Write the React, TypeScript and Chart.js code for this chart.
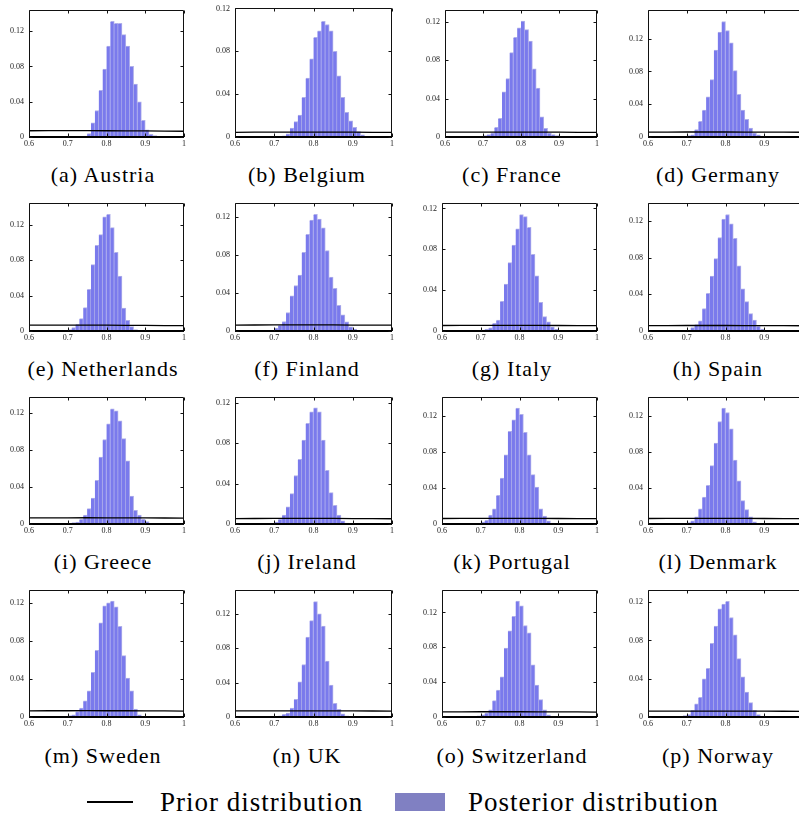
import React, { useEffect, useRef } from 'react';
import { Chart, registerables } from 'chart.js';

Chart.register(...registerables);

// ---------------- data ----------------
const X_TICKS = [0.6, 0.7, 0.8, 0.9, 1.0];
const Y_TICKS = [0, 0.04, 0.08, 0.12];
const BIN_WIDTH = 0.01;
const PRIOR_X = [0.6, 0.7, 0.8, 0.9, 1.0];

const COUNTRIES = [
  'Austria', 'Belgium', 'France', 'Germany',
  'Netherlands', 'Finland', 'Italy', 'Spain',
  'Greece', 'Ireland', 'Portugal', 'Denmark',
  'Sweden', 'UK', 'Switzerland', 'Norway',
];
const LETTERS = ['a', 'b', 'c', 'd', 'e', 'f', 'g', 'h', 'i', 'j', 'k', 'l', 'm', 'n', 'o', 'p'];

// left edge of the first histogram bin for each country
const BIN_START = [0.74, 0.72, 0.70, 0.69, 0.70, 0.70, 0.70, 0.70, 0.70, 0.70, 0.69, 0.69, 0.69, 0.70, 0.68, 0.69];

// upper y limit of each panel
const Y_MAX = [0.1442, 0.1206, 0.1327, 0.1553, 0.145, 0.1353, 0.1255, 0.1398, 0.137, 0.1258, 0.1415, 0.1415, 0.1338, 0.1478, 0.146, 0.133];

// posterior histograms (bin heights)
const POST_AUSTRIA = [0.001, 0.004, 0.016, 0.03, 0.053, 0.077, 0.103, 0.131, 0.129, 0.129, 0.116, 0.103, 0.080, 0.060, 0.040, 0.019, 0.008, 0.003, 0.0015, 0.0008];
const POST_BELGIUM = [0.001, 0.003, 0.0083, 0.0144, 0.0205, 0.037, 0.055, 0.073, 0.093, 0.099, 0.108, 0.105, 0.099, 0.080, 0.057, 0.037, 0.023, 0.015, 0.009, 0.005, 0.002];
const POST_FRANCE = [0.0014, 0.0024, 0.004, 0.010, 0.0195, 0.047, 0.061, 0.088, 0.104, 0.114, 0.121, 0.112, 0.100, 0.071, 0.051, 0.021, 0.009, 0.004, 0.0024, 0.0014];
const POST_GERMANY = [0.0008, 0.0016, 0.0028, 0.009, 0.019, 0.033, 0.049, 0.070, 0.106, 0.128, 0.141, 0.130, 0.115, 0.081, 0.052, 0.033, 0.0217, 0.011, 0.0048, 0.0028, 0.001];
const POST_NETHERLANDS = [0.0015, 0.004, 0.0075, 0.014, 0.0265, 0.047, 0.075, 0.097, 0.109, 0.129, 0.132, 0.117, 0.089, 0.062, 0.026, 0.012, 0.005, 0.0015];
const POST_FINLAND = [0.003, 0.006, 0.010, 0.0195, 0.037, 0.048, 0.059, 0.083, 0.102, 0.117, 0.123, 0.118, 0.109, 0.085, 0.057, 0.045, 0.027, 0.017, 0.0098, 0.0045, 0.002];
const POST_ITALY = [0.001, 0.002, 0.003, 0.0074, 0.0107, 0.029, 0.046, 0.067, 0.084, 0.100, 0.114, 0.112, 0.1016, 0.075, 0.054, 0.028, 0.014, 0.009, 0.004, 0.002];
const POST_SPAIN = [0.001, 0.0036, 0.007, 0.011, 0.0245, 0.041, 0.060, 0.079, 0.102, 0.122, 0.127, 0.117, 0.101, 0.071, 0.046, 0.032, 0.019, 0.012, 0.005, 0.002];
const POST_GREECE = [0.0007, 0.0014, 0.002, 0.005, 0.0095, 0.0166, 0.028, 0.047, 0.072, 0.091, 0.108, 0.124, 0.122, 0.111, 0.092, 0.068, 0.030, 0.0148, 0.0095, 0.005, 0.0025, 0.0007];
const POST_IRELAND = [0.002, 0.0045, 0.0088, 0.017, 0.030, 0.048, 0.064, 0.083, 0.0996, 0.111, 0.115, 0.111, 0.083, 0.053, 0.031, 0.0185, 0.0088, 0.0032, 0.001];
const POST_PORTUGAL = [0.0007, 0.002, 0.004, 0.0098, 0.017, 0.032, 0.051, 0.077, 0.103, 0.116, 0.129, 0.122, 0.102, 0.077, 0.055, 0.041, 0.017, 0.0088, 0.0036, 0.001];
const POST_DENMARK = [0.0007, 0.0015, 0.0036, 0.008, 0.017, 0.030, 0.043, 0.065, 0.090, 0.114, 0.129, 0.124, 0.106, 0.071, 0.048, 0.026, 0.016, 0.008, 0.0025, 0.0007];
const POST_SWEDEN = [0.0007, 0.0014, 0.0024, 0.0058, 0.0093, 0.017, 0.0276, 0.047, 0.070, 0.099, 0.117, 0.120, 0.122, 0.116, 0.0955, 0.0645, 0.041, 0.0276, 0.0083, 0.0024, 0.0007];
const POST_UK = [0.0007, 0.0015, 0.003, 0.0046, 0.0103, 0.0206, 0.041, 0.061, 0.093, 0.112, 0.134, 0.120, 0.1055, 0.065, 0.037, 0.016, 0.009, 0.0038, 0.0015];
const POST_SWITZERLAND = [0.0007, 0.0014, 0.0026, 0.0045, 0.0083, 0.0188, 0.031, 0.046, 0.079, 0.099, 0.1155, 0.133, 0.1275, 0.105, 0.0967, 0.060, 0.0365, 0.020, 0.0083, 0.0026, 0.0007];
const POST_NORWAY = [0.0014, 0.0024, 0.0069, 0.0137, 0.0206, 0.040, 0.051, 0.077, 0.095, 0.113, 0.118, 0.121, 0.104, 0.086, 0.061, 0.042, 0.026, 0.015, 0.0069, 0.0024, 0.001];

const POSTERIORS = [
  POST_AUSTRIA, POST_BELGIUM, POST_FRANCE, POST_GERMANY,
  POST_NETHERLANDS, POST_FINLAND, POST_ITALY, POST_SPAIN,
  POST_GREECE, POST_IRELAND, POST_PORTUGAL, POST_DENMARK,
  POST_SWEDEN, POST_UK, POST_SWITZERLAND, POST_NORWAY,
];

// prior densities at PRIOR_X
const PRIOR_AUSTRIA = [0.0071, 0.0072, 0.0071, 0.0069, 0.0065];
const PRIOR_BELGIUM = [0.0044, 0.0046, 0.0046, 0.0045, 0.0043];
const PRIOR_FRANCE = [0.0050, 0.0051, 0.0051, 0.0050, 0.0048];
const PRIOR_GERMANY = [0.0060, 0.0061, 0.0061, 0.0060, 0.0058];
const PRIOR_NETHERLANDS = [0.0067, 0.0067, 0.0066, 0.0063, 0.0060];
const PRIOR_FINLAND = [0.0062, 0.0064, 0.0064, 0.0063, 0.0061];
const PRIOR_ITALY = [0.0054, 0.0055, 0.0055, 0.0054, 0.0052];
const PRIOR_SPAIN = [0.0059, 0.0060, 0.0060, 0.0059, 0.0057];
const PRIOR_GREECE = [0.0066, 0.0067, 0.0067, 0.0066, 0.0063];
const PRIOR_IRELAND = [0.0054, 0.0055, 0.0055, 0.0054, 0.0052];
const PRIOR_PORTUGAL = [0.0061, 0.0062, 0.0062, 0.0061, 0.0059];
const PRIOR_DENMARK = [0.0061, 0.0062, 0.0062, 0.0061, 0.0059];
const PRIOR_SWEDEN = [0.0065, 0.0066, 0.0066, 0.0065, 0.0062];
const PRIOR_UK = [0.0071, 0.0072, 0.0072, 0.0071, 0.0068];
const PRIOR_SWITZERLAND = [0.0059, 0.0060, 0.0060, 0.0059, 0.0057];
const PRIOR_NORWAY = [0.0061, 0.0062, 0.0062, 0.0061, 0.0059];

const PRIORS = [
  PRIOR_AUSTRIA, PRIOR_BELGIUM, PRIOR_FRANCE, PRIOR_GERMANY,
  PRIOR_NETHERLANDS, PRIOR_FINLAND, PRIOR_ITALY, PRIOR_SPAIN,
  PRIOR_GREECE, PRIOR_IRELAND, PRIOR_PORTUGAL, PRIOR_DENMARK,
  PRIOR_SWEDEN, PRIOR_UK, PRIOR_SWITZERLAND, PRIOR_NORWAY,
];

const LEGEND_LABELS = ['Prior distribution', 'Posterior distribution'];

// ---------------- layout ----------------
const COL_LEFT = [29, 235, 442, 648];
const COL_RIGHT = [184, 392, 597, 803];
const ROW_TOP = [8, 201, 395, 588];
const ROW_BOTTOM = [137, 331, 524, 717];
const CAPTION_X = [103, 307, 512, 718];
const CAPTION_Y = [175, 368.5, 562, 755.5];

const PAD_L = 34;
const PAD_T = 8;
const PAD_R = 10;
const PAD_B = 16;

const BAR_FILL = 'rgb(122,122,236)';
const BAR_EDGE = 'rgb(176,176,234)';
const SERIF = '"Liberation Serif", "Times New Roman", serif';

const fmt = (v: number) => String(Math.round(v * 100) / 100);

const boxPlugin = {
  id: 'boxTicks',
  afterDatasetsDraw(chart: any) {
    const { ctx, chartArea: a, scales } = chart;
    ctx.save();
    ctx.strokeStyle = '#111';
    ctx.lineWidth = 1;
    const l = Math.round(a.left) + 0.5;
    const r = Math.round(a.right) - 0.5;
    const t = Math.round(a.top) + 0.5;
    const b = Math.round(a.bottom);
    ctx.beginPath();
    ctx.moveTo(l, b);
    ctx.lineTo(l, t);
    ctx.lineTo(r, t);
    ctx.lineTo(r, b);
    ctx.stroke();
    ctx.fillStyle = '#000';
    ctx.fillRect(Math.round(a.left), b - 1, Math.round(a.right) - Math.round(a.left), 2);
    ctx.beginPath();
    X_TICKS.forEach((v) => {
      const x = Math.round(scales.x.getPixelForValue(v)) + 0.5;
      ctx.moveTo(x, b);
      ctx.lineTo(x, b - 3.5);
      ctx.moveTo(x, t);
      ctx.lineTo(x, t + 3);
    });
    Y_TICKS.forEach((v) => {
      const y = Math.round(scales.y.getPixelForValue(v)) + 0.5;
      ctx.moveTo(l, y);
      ctx.lineTo(l + 3, y);
      ctx.moveTo(r, y);
      ctx.lineTo(r - 3, y);
    });
    ctx.stroke();
    ctx.restore();
  },
};

function Panel({ index }: { index: number }) {
  const ref = useRef<HTMLCanvasElement | null>(null);
  const col = index % 4;
  const row = Math.floor(index / 4);
  const left = index === 2 ? 445 : COL_LEFT[col];
  const top = index === 1 ? 6 : ROW_TOP[row];
  const plotW = COL_RIGHT[col] - left;
  const plotH = ROW_BOTTOM[row] - top;
  const W = plotW + PAD_L + PAD_R;
  const H = plotH + PAD_T + PAD_B;

  useEffect(() => {
    if (!ref.current) return;
    const bars = POSTERIORS[index].map((y, i) => ({
      x: BIN_START[index] + BIN_WIDTH * (i + 0.5),
      y,
    }));
    const prior = PRIORS[index].map((y, i) => ({ x: PRIOR_X[i], y }));
    const tickFont = { family: SERIF, size: 8 };
    const chart = new Chart(ref.current, {
      type: 'bar',
      data: {
        datasets: [
          {
            type: 'line',
            data: prior,
            borderColor: '#000',
            borderWidth: 1.3,
            pointRadius: 0,
            tension: 0.4,
            fill: false,
            order: 0,
          } as any,
          {
            type: 'bar',
            data: bars,
            backgroundColor: BAR_FILL,
            borderColor: BAR_EDGE,
            borderWidth: { left: 0, right: 1, top: 1, bottom: 0 },
            barPercentage: 1,
            categoryPercentage: 1,
            order: 1,
          } as any,
        ],
      },
      options: {
        animation: false,
        responsive: false,
        devicePixelRatio: 1,
        layout: { padding: { left: 0, top: PAD_T, right: PAD_R, bottom: 0 } },
        plugins: { legend: { display: false }, tooltip: { enabled: false } },
        scales: {
          x: {
            type: 'linear',
            min: 0.6,
            max: 1.0,
            offset: false,
            grid: { display: false, drawTicks: false },
            border: { display: false },
            ticks: {
              font: tickFont,
              color: '#222',
              padding: 2,
              maxRotation: 0,
              autoSkip: false,
              callback: (v: any) => fmt(Number(v)),
            },
            afterBuildTicks: (s: any) => {
              s.ticks = X_TICKS.map((value) => ({ value }));
            },
            afterFit: (s: any) => {
              s.height = PAD_B;
            },
          },
          y: {
            type: 'linear',
            min: 0,
            max: Y_MAX[index],
            grid: { display: false, drawTicks: false },
            border: { display: false },
            ticks: {
              font: tickFont,
              color: '#222',
              padding: 5,
              autoSkip: false,
              callback: (v: any) => fmt(Number(v)),
            },
            afterBuildTicks: (s: any) => {
              s.ticks = Y_TICKS.map((value) => ({ value }));
            },
            afterFit: (s: any) => {
              s.width = PAD_L;
            },
          },
        },
      } as any,
      plugins: [boxPlugin],
    });
    return () => chart.destroy();
  }, [index]);

  return (
    <>
      <canvas
        ref={ref}
        width={W}
        height={H}
        style={{ position: 'absolute', left: left - PAD_L, top: top - PAD_T, width: W, height: H }}
      />
      <div
        style={{
          position: 'absolute',
          left: CAPTION_X[col] - 110,
          width: 220,
          top: CAPTION_Y[row] - 14,
          height: 28,
          lineHeight: '28px',
          textAlign: 'center',
          fontFamily: SERIF,
          fontSize: 22,
          letterSpacing: 1,
          color: '#000',
          whiteSpace: 'pre',
        }}
      >
        {`(${LETTERS[index]}) ${COUNTRIES[index]}`}
      </div>
    </>
  );
}

const legendText: React.CSSProperties = {
  position: 'absolute',
  top: 785,
  height: 34,
  lineHeight: '34px',
  fontFamily: SERIF,
  fontSize: 27,
  letterSpacing: 1,
  color: '#000',
  whiteSpace: 'pre',
};

export default function App() {
  return (
    <div
      style={{
        position: 'fixed',
        left: 0,
        top: 0,
        width: 799,
        height: 819,
        overflow: 'hidden',
        background: '#fff',
      }}
    >
      {COUNTRIES.map((_, i) => (
        <Panel key={i} index={i} />
      ))}
      <div style={{ position: 'absolute', left: 87, top: 801, width: 46, height: 2, background: '#000' }} />
      <div style={{ ...legendText, left: 160 }}>{LEGEND_LABELS[0]}</div>
      <div style={{ position: 'absolute', left: 395, top: 793, width: 50, height: 18, background: 'rgb(128,128,194)' }} />
      <div style={{ ...legendText, left: 468 }}>{LEGEND_LABELS[1]}</div>
    </div>
  );
}
